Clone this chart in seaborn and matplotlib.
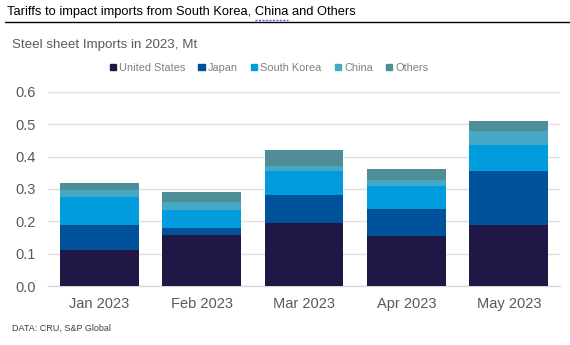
import matplotlib
matplotlib.use("Agg")
import matplotlib.pyplot as plt
import matplotlib.patches as mpatches
from matplotlib.font_manager import FontProperties
import numpy as np
import pandas as pd
import seaborn as sns

months = ["Jan 2023", "Feb 2023", "Mar 2023", "Apr 2023", "May 2023"]
series = ["United States", "Japan", "South Korea", "China", "Others"]
united_states = [0.111, 0.158, 0.195, 0.155, 0.189]
japan = [0.078, 0.022, 0.087, 0.083, 0.167]
south_korea = [0.087, 0.055, 0.074, 0.072, 0.081]
china = [0.021, 0.025, 0.015, 0.018, 0.043]
others = [0.023, 0.031, 0.050, 0.034, 0.031]
colors = ["#201747", "#00529B", "#009CDE", "#44A8C6", "#4F8E96"]
yticks = [0.0, 0.1, 0.2, 0.3, 0.4, 0.5, 0.6]

sns.set_theme(style="white")
plt.rcParams["font.family"] = ["Liberation Sans", "DejaVu Sans"]

values = np.array([united_states, japan, south_korea, china, others])
cum = np.cumsum(values, axis=0)
df = pd.DataFrame({"month": months})
for name, row in zip(series, cum):
    df[name] = row

W, H = 570, 345
fig = plt.figure(figsize=(W / 100, H / 100), dpi=100)
ax = fig.add_axes([48 / W, 1 - 286 / H, 512 / W, 194 / H])

# Stacked bars: draw cumulative totals from the top layer down
for name, color in reversed(list(zip(series, colors))):
    sns.barplot(data=df, x="month", y=name, order=months, color=color,
                width=0.77, saturation=1, linewidth=0, edgecolor="none",
                ax=ax, zorder=3)

ax.set_ylim(0, 0.6)
ax.set_yticks(yticks)
ax.set_yticklabels([f"{t:.1f}" for t in yticks])
ax.set_xlim(-0.5, len(months) - 0.5)
ax.set_xlabel("")
ax.set_ylabel("")
ax.grid(axis="y", color="#E0E0E0", linewidth=1, zorder=0)
ax.set_axisbelow(True)
for side in ["top", "left", "right"]:
    ax.spines[side].set_visible(False)
ax.spines["bottom"].set_color("#D9D9D9")
ax.spines["bottom"].set_linewidth(1)
ax.tick_params(axis="both", length=0, labelsize=10.5, colors="#595959")
ax.tick_params(axis="x", pad=8)
ax.tick_params(axis="y", pad=8.5)

handles = [mpatches.Patch(color=c, label=s) for s, c in zip(series, colors)]
fig.legend(handles=handles, loc="center", bbox_to_anchor=(269 / W, 1 - 68 / H),
           ncol=5, frameon=False, fontsize=7.9, labelcolor="#808080",
           handlelength=0.55, handleheight=0.55, handletextpad=0.3, columnspacing=1.2)

title_x, title_size = 7, 9.3
prefix = "Tariffs to impact imports from South Korea, "
word = "China"
fig.text(title_x / W, 1 - 12 / H, prefix + word + " and Others",
         fontsize=title_size, color="#000000", va="center", ha="left")
fig.add_artist(plt.Line2D([5 / W, 1.0], [1 - 21.5 / H] * 2, color="#000000", linewidth=1))

# Dotted underline beneath the flagged word in the headline
renderer = fig.canvas.get_renderer()
fp = FontProperties(family=["Liberation Sans", "DejaVu Sans"], size=title_size)
w_prefix = renderer.get_text_width_height_descent(prefix, fp, ismath=False)[0]
w_word = renderer.get_text_width_height_descent(word, fp, ismath=False)[0]
x0 = title_x + w_prefix
fig.add_artist(plt.Line2D([x0 / W, (x0 + w_word) / W], [1 - 19.5 / H] * 2,
                          color="#5A5AE6", linewidth=1, linestyle=(0, (1.5, 1))))

fig.text(12 / W, 1 - 45 / H, "Steel sheet Imports in 2023, Mt",
         fontsize=9.6, color="#595959", va="center", ha="left")
fig.text(12 / W, 1 - 328 / H, "DATA: CRU, S&P Global",
         fontsize=6.5, color="#404040", va="center", ha="left")

fig.savefig("out.png", dpi=100)
